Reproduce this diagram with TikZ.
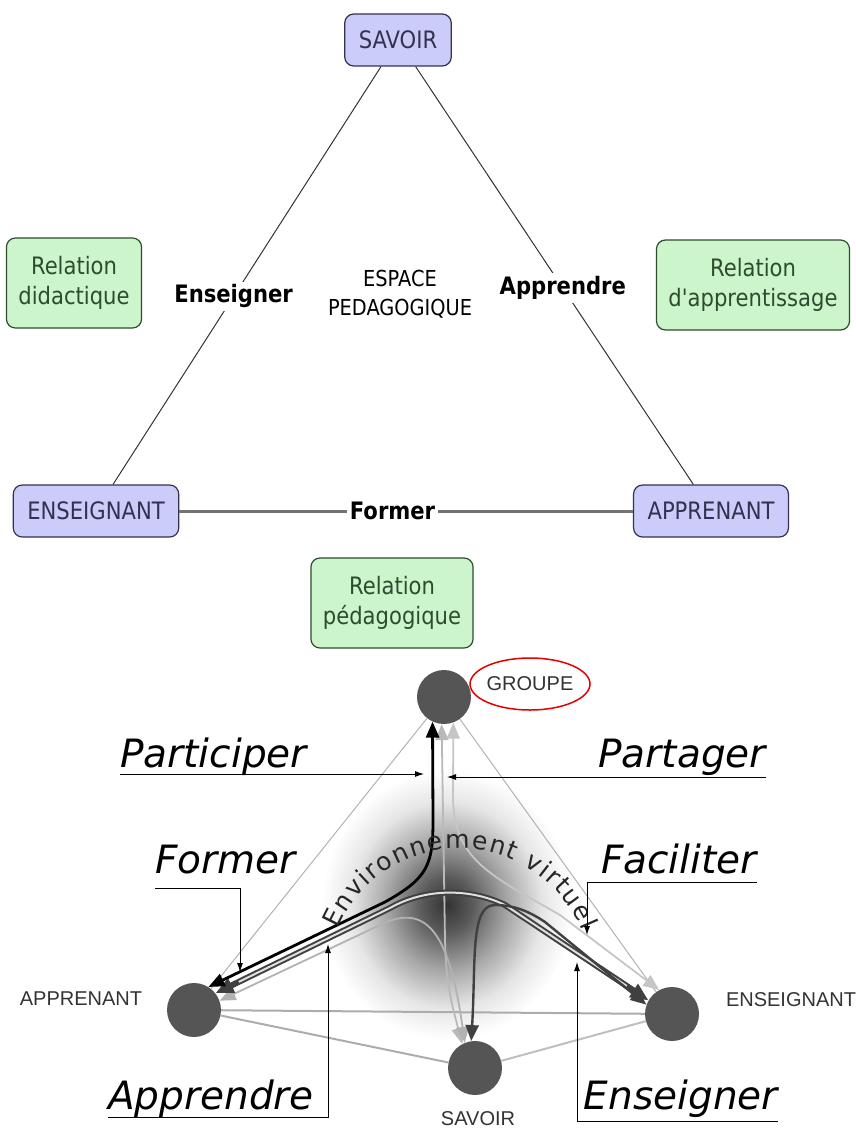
\documentclass[tikz,border=0pt]{standalone}
\usepackage{fontspec}
\setmainfont{DejaVu Sans}
\newfontfamily\boxfont{DejaVu Sans}[FakeStretch=0.88]
\newfontfamily\labfont{Liberation Sans}
\usepackage{xcolor}
\usetikzlibrary{positioning}
\usetikzlibrary{arrows.meta, decorations.text}
\definecolor{conceptfill}{RGB}{204,204,250}
\definecolor{conceptink}{RGB}{50,50,80}
\definecolor{relfill}{RGB}{204,245,204}
\definecolor{relink}{RGB}{45,75,45}
\definecolor{dotgray}{RGB}{85,85,85}
\pgfdeclareradialshading{haze}{\pgfpoint{0bp}{0bp}}{color(0bp)=(black!80); color(5bp)=(black!65);
  color(12bp)=(black!35); color(19bp)=(black!10); color(25bp)=(white); color(50bp)=(white)}

\begin{document}
\begin{tikzpicture}[x=1pt, y=-1pt,
  concept/.style = {draw=conceptink, line width=1.2pt, fill=conceptfill, rounded corners=9pt,
    minimum height=52pt, inner xsep=14pt, text=conceptink, font=\boxfont\fontsize{24}{30}\selectfont},
  relation/.style = {draw=relink, line width=1.2pt, fill=relfill, rounded corners=9pt,
    minimum height=90pt, inner xsep=12pt, align=center, text=relink, font=\boxfont\fontsize{24}{30}\selectfont},
  verb/.style = {fill=white, inner sep=3pt, font=\boxfont\bfseries\fontsize{24}{30}\selectfont},
  dot/.style = {circle, fill=dotgray, minimum size=54pt, inner sep=0pt},
  tag/.style = {text=black!80, font=\labfont\fontsize{20}{24}\selectfont},
  callout/.style = {inner sep=0pt, font=\itshape\fontsize{39}{46}\selectfont},
  pointer/.style = {line width=0.9pt, -{Latex[length=9pt, width=6pt]}},
  side/.style = {draw=gray!65, line width=2pt},
  thin side/.style = {draw=gray!60, line width=1pt},
  flow/.style = {line width=1.8pt, {Triangle[length=16pt, width=13pt]}-{Triangle[length=16pt, width=13pt]}}]
\useasboundingbox (0,0) rectangle (856,1129);

% upper triangle
\node[concept] (sav) at (398,40) {SAVOIR};
\node[concept] (ens) at (96,511) {ENSEIGNANT};
\node[concept] (app) at (711,511) {APPRENANT};
\node[relation] (did) at (74,283) {Relation\\didactique};
\node[relation] (apr) at (753,285) {Relation\\d'apprentissage};
\node[relation] (ped) at (392,603) {Relation\\pédagogique};
\node[align=center, font=\boxfont\fontsize{22}{29}\selectfont] (esp) at (400,294) {ESPACE\\PEDAGOGIQUE};
\path (sav) edge [draw=black!80, line width=1pt] node [verb, pos=0.55] {Enseigner} (ens);
\path (sav) edge [draw=black!80, line width=1pt] node [verb, pos=0.53] {Apprendre} (app);
\path (ens) edge [draw=black!55, line width=3pt] node [verb, pos=0.47] {Former} (app);

% lower triangle
\shade[shading=haze] (447,905) ellipse (125 and 135);
\node[dot] (grp) at (444,697) {};
\node[dot] (lrn) at (194,1010) {};
\node[dot] (tch) at (672,1014) {};
\node[dot] (knw) at (475,1068) {};
\node[tag] (grpt) at (530,684) {GROUPE};
\node[tag] (lrnt) at (81,999) {APPRENANT};
\node[tag] (tcht) at (791,1000) {ENSEIGNANT};
\node[tag] (knwt) at (478,1119) {SAVOIR};
\draw[red!90!black, line width=1.5pt] (grpt) ellipse (60 and 26);

\draw[thin side] (grp) -- (lrn);
\draw[thin side] (grp) -- (tch);
\draw[side] (lrn) -- (tch);
\draw[side] (lrn) -- (knw);
\draw[side, draw=gray!50] (knw) -- (tch);

% flows
\draw[flow, gray!55] (grp.265) -- (445,940) .. controls (446,985) and (452,1005) .. (knw.118);
\draw[flow, gray!45] (grp.290) -- (453,800) .. controls (455,860) and (490,875) .. (560,915) -- (tch.118);
\draw[flow, gray!60] (lrn.20) -- (380,925) .. controls (430,900) and (450,940) .. (knw.112);
\draw[flow, black!75, line width=6pt, {Triangle[length=18pt, width=15pt]}-{Triangle[length=18pt, width=15pt]}]
  (lrn.38) -- (390,908) .. controls (425,888) and (470,888) .. (505,905) -- (tch.150);
\draw[white!75!gray, line width=2pt, shorten <=26pt, shorten >=26pt]
  (lrn.38) -- (390,908) .. controls (425,888) and (470,888) .. (505,905) -- (tch.150);
\draw[flow, black!75, line width=2.4pt] (knw.98) .. controls (476,960) and (470,905) .. (495,905)
  .. controls (515,905) and (530,912) .. (545,922) -- (tch.160);
\draw[flow, black, line width=2.8pt] (lrn.58) -- (385,902) .. controls (428,878) and (433,865) .. (433,820) -- (grp.245);

% text along the arc
\path[decorate, decoration={text along path, text align={fit to path},
  text={|\color{black!85}\fontsize{25}{28}\selectfont|Environnement virtuel}}]
  (338,929) arc[start angle=-157, end angle=-22, radius=132];

% callouts
\node[callout, anchor=base west] (part) at (120,767) {Participer};
\node[callout, anchor=base east] (shar) at (766,767) {Partager};
\node[callout, anchor=base west] (form) at (155,873) {Former};
\node[callout, anchor=base east] (faci) at (757,873) {Faciliter};
\node[callout, anchor=base west] (lern) at (108,1109) {Apprendre};
\node[callout, anchor=base east] (teac) at (778,1109) {Enseigner};
\coordinate (partTip) at (424,774);
\coordinate (sharTip) at (447,777);
\coordinate (formTip) at (240,972);
\coordinate (faciTip) at (587,935);
\coordinate (lernTip) at (328,944);
\coordinate (teacTip) at (577,962);
\draw[pointer] ([yshift=-7pt]part.base west) -- (partTip);
\draw[pointer] ([yshift=-10pt]shar.base east) -- (sharTip);
\draw[pointer] ([yshift=-15pt]form.base west) -| (formTip);
\draw[pointer] ([yshift=-9pt]faci.base east) -| (faciTip);
\draw[pointer] ([yshift=-8pt]lern.base west) -| (lernTip);
\draw[pointer] ([yshift=-12pt]teac.base east) -| (teacTip);
\end{tikzpicture}
\end{document}
